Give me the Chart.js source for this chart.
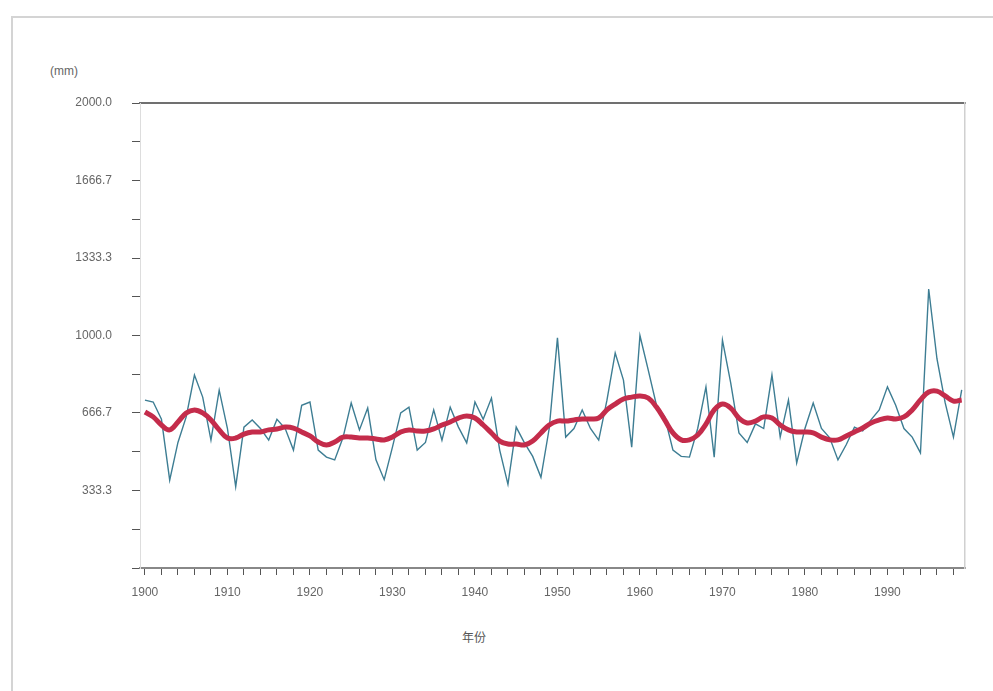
<!DOCTYPE html>
<html>
<head>
<meta charset="utf-8">
<script src="https://cdn.jsdelivr.net/npm/chart.js@4"></script>
<style>
  body { margin: 0; background: #fff; overflow: hidden; }
  #frame { position: absolute; left: 11px; top: 16px; width: 980px; height: 680px;
           border-top: 2px solid #d4d4d4; border-left: 2px solid #d4d4d4; }
  #unit { position: absolute; left: 50px; top: 64px; font: 12px "Liberation Sans", Arial, sans-serif; color: #666; }
  #xtitle { position: absolute; left: 462px; top: 628px; font: 12px "Noto Sans CJK SC", sans-serif; color: #555; }
  #wrap { position: absolute; left: 0; top: 0; width: 993px; height: 691px; }
</style>
</head>
<body>
<div id="frame"></div>
<div id="unit">(mm)</div>
<div id="xtitle">年份</div>
<div id="wrap"><canvas id="rainChart" width="993" height="691"></canvas></div>
<script>
// years 1900 - 1999
var years = [];
for (var y = 1900; y <= 1999; y++) years.push(y);

// annual values (blue)
var annual = [
  722, 714, 640, 378, 540, 650, 830, 735, 550, 765,
  600, 350, 606, 637, 600, 550, 640, 600, 507, 700,
  714, 507, 477, 465, 560, 710, 594, 688, 465, 380,
  520, 667, 692, 507, 540, 680, 550, 692, 606, 538,
  714, 640, 731, 507, 360, 606, 538, 480, 390, 600,
  990, 563, 600, 680, 600, 550, 722, 925, 808, 520,
  1000, 852, 700, 650, 507, 480, 477, 600, 779, 477,
  980, 796, 581, 540, 620, 600, 830, 563, 722, 452,
  600, 710, 600, 560, 465, 530, 606, 590, 637, 680,
  779, 700, 600, 563, 495, 1200, 900, 710, 563, 766
];

// smoothed curve (red)
var smooth = [
  671, 650, 615, 594, 628, 667, 680, 667, 637, 594,
  559, 559, 576, 585, 585, 594, 598, 606, 602, 585,
  568, 542, 529, 542, 563, 563, 559, 559, 555, 551,
  563, 585, 594, 589, 589, 598, 615, 628, 645, 654,
  645, 615, 581, 546, 533, 533, 529, 546, 581, 615,
  632, 632, 637, 641, 641, 645, 680, 705, 727, 735,
  740, 731, 692, 637, 581, 551, 551, 572, 619, 680,
  705, 688, 645, 624, 632, 650, 645, 615, 594, 585,
  585, 581, 563, 551, 551, 568, 585, 602, 624, 637,
  645, 641, 650, 680, 723, 757, 761, 740, 718, 723
];

var xTicks = [];
for (var t = 1900; t <= 1998; t += 2) xTicks.push(t);
var xLabels = [1900, 1910, 1920, 1930, 1940, 1950, 1960, 1970, 1980, 1990];
var yTicks = [0, 166.67, 333.33, 500, 666.67, 833.33, 1000, 1166.67, 1333.33, 1500, 1666.67, 1833.33, 2000];
var yLabels = [333.33, 666.67, 1000, 1333.33, 1666.67, 2000];

var tickFont = { family: 'Liberation Sans', size: 12 };

var ctx = document.getElementById('rainChart').getContext('2d');
var rainChart = new Chart(ctx, {
    type: 'line',
    data: {
        datasets: [{
            data: years.map(function (yr, i) { return { x: yr, y: smooth[i] }; }),
            borderColor: '#c42c4b',
            borderWidth: 5,
            pointRadius: 0,
            tension: 0.4
        }, {
            data: years.map(function (yr, i) { return { x: yr, y: annual[i] }; }),
            borderColor: '#3d7d93',
            borderWidth: 1.4,
            pointRadius: 0,
            tension: 0
        }]
    },
    options: {
        responsive: false,
        animation: false,
        layout: { padding: { top: 103, right: 28, left: 0, bottom: 0 } },
        plugins: { legend: { display: false }, tooltip: { enabled: false } },
        scales: {
            x: {
                type: 'linear',
                min: 1899.4,
                max: 1999.4,
                afterBuildTicks: function (s) { s.ticks = xTicks.map(function (v) { return { value: v }; }); },
                afterFit: function (s) { s.height = 123; },
                grid: { drawOnChartArea: false, tickLength: 7, color: '#555' },
                border: { color: '#888', width: 2 },
                ticks: {
                    autoSkip: false,
                    maxRotation: 0,
                    padding: 10,
                    color: '#666',
                    font: tickFont,
                    callback: function (v) { return xLabels.indexOf(v) >= 0 ? String(v) : ''; }
                }
            },
            xTop: {
                type: 'linear',
                position: 'top',
                min: 1899.4,
                max: 1999.4,
                afterFit: function (s) { s.height = 0; },
                grid: { display: false },
                border: { color: '#707070', width: 2 },
                ticks: { display: false }
            },
            y: {
                min: 0,
                max: 2000,
                afterBuildTicks: function (s) { s.ticks = yTicks.map(function (v) { return { value: v }; }); },
                afterFit: function (s) { s.width = 140; },
                grid: { drawOnChartArea: false, tickLength: 8, color: '#555' },
                border: { color: '#dddddd', width: 1 },
                ticks: {
                    padding: 20,
                    color: '#666',
                    font: tickFont,
                    callback: function (v) { return yLabels.indexOf(v) >= 0 ? v.toFixed(1) : ''; }
                }
            },
            yRight: {
                position: 'right',
                min: 0,
                max: 2000,
                afterFit: function (s) { s.width = 0; },
                grid: { display: false },
                border: { color: '#d0d0d0', width: 1.5 },
                ticks: { display: false }
            }
        }
    }
});
</script>
</body>
</html>
